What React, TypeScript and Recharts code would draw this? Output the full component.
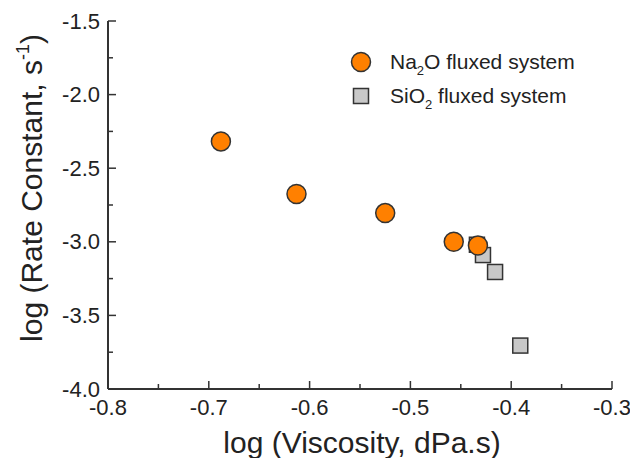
import React from 'react';
import { ScatterChart, Scatter, XAxis, YAxis, Legend, Label } from 'recharts';

// log(viscosity) vs log(rate constant)
const naX = [-0.688, -0.613, -0.525, -0.457, -0.433];
const naY = [-2.318, -2.675, -2.805, -3.0, -3.025];
const siX = [-0.434, -0.428, -0.416, -0.391];
const siY = [-3.02, -3.09, -3.205, -3.705];

const xTicks = [-0.8, -0.75, -0.7, -0.65, -0.6, -0.55, -0.5, -0.45, -0.4, -0.35, -0.3];
const yTicks = [-4.0, -3.75, -3.5, -3.25, -3.0, -2.75, -2.5, -2.25, -2.0, -1.75, -1.5];
const xMajor = [-0.8, -0.7, -0.6, -0.5, -0.4, -0.3];
const yMajor = [-4.0, -3.5, -3.0, -2.5, -2.0, -1.5];

const naData = naX.map((x, i) => ({ x, y: naY[i] }));
const siData = siX.map((x, i) => ({ x, y: siY[i] }));

const FONT = '"Liberation Sans", Arial, sans-serif';
const INK = '#333333';
const ORANGE = '#FF8000';
const GREY = '#C8C8C8';

const isIn = (v: number, list: number[]) => list.some((m) => Math.abs(m - v) < 1e-9);

const BottomTick = (props: any) => {
  const { x, y, payload } = props;
  const major = isIn(payload.value, xMajor);
  return (
    <g>
      <line x1={x} x2={x} y1={y} y2={y - (major ? 8 : 5)} stroke={INK} strokeWidth={1.5} />
      {major && (
        <text x={x} y={y + 26} textAnchor="middle" fontSize={22} fontFamily={FONT} fill="#222">
          {payload.value.toFixed(1)}
        </text>
      )}
    </g>
  );
};

const TopTick = (props: any) => {
  const { x, y, payload } = props;
  if (!isIn(payload.value, xMajor)) return <g />;
  return <line x1={x} x2={x} y1={y} y2={y + 7} stroke={INK} strokeWidth={1.5} />;
};

const LeftTick = (props: any) => {
  const { x, y, payload } = props;
  const major = isIn(payload.value, yMajor);
  return (
    <g>
      <line x1={x} x2={x + (major ? 8 : 5)} y1={y} y2={y} stroke={INK} strokeWidth={1.5} />
      {major && (
        <text x={x - 8} y={y + 7.5} textAnchor="end" fontSize={22} fontFamily={FONT} fill="#222">
          {payload.value.toFixed(1)}
        </text>
      )}
    </g>
  );
};

const RightTick = (props: any) => {
  const { x, y, payload } = props;
  if (!isIn(payload.value, yMajor)) return <g />;
  return <line x1={x} x2={x - 7} y1={y} y2={y} stroke={INK} strokeWidth={1.5} />;
};

const CircleDot = (props: any) => (
  <circle cx={props.cx} cy={props.cy} r={9.5} fill={ORANGE} stroke={INK} strokeWidth={1.5} />
);

const SquareDot = (props: any) => (
  <rect x={props.cx - 7.5} y={props.cy - 7.5} width={15} height={15} fill={GREY} stroke={INK} strokeWidth={1.5} />
);

const LegendBox = () => (
  <svg width={290} height={80} style={{ display: 'block' }}>
    <circle cx={21} cy={22} r={9.5} fill={ORANGE} stroke={INK} strokeWidth={1.5} />
    <text x={50} y={29} fontSize={21} fontFamily={FONT} fill="#222">
      Na<tspan fontSize={13} dy={6}>2</tspan>
      <tspan dy={-6}>O fluxed system</tspan>
    </text>
    <rect x={13.5} y={48.5} width={15} height={15} fill={GREY} stroke={INK} strokeWidth={1.5} />
    <text x={50} y={63} fontSize={21} fontFamily={FONT} fill="#222">
      SiO<tspan fontSize={13} dy={6}>2</tspan>
      <tspan dy={-6}> fluxed system</tspan>
    </text>
  </svg>
);

const YTitle = (props: any) => {
  const { viewBox } = props;
  const cx = viewBox.x + 42;
  const cy = viewBox.y + viewBox.height / 2 - 17;
  return (
    <text transform={`translate(${cx},${cy}) rotate(-90)`} textAnchor="middle" fontSize={30} fontFamily={FONT} fill="#222">
      log (Rate Constant, s<tspan fontSize={18} dy={-13}>-1</tspan>
      <tspan dy={13}>)</tspan>
    </text>
  );
};

const XTitle = (props: any) => {
  const { viewBox } = props;
  const cx = viewBox.x + viewBox.width / 2 + 2;
  return (
    <text x={cx} y={453} textAnchor="middle" fontSize={30} fontFamily={FONT} fill="#222">
      log (Viscosity, dPa.s)
    </text>
  );
};

export default function App() {
  return (
    <div style={{ position: 'absolute', left: 0, top: 0, width: 630, height: 458, background: '#fff' }}>
      <ScatterChart width={630} height={458} margin={{ top: 21, right: 18, bottom: 0, left: 0 }}>
        <XAxis
          xAxisId={0}
          dataKey="x"
          type="number"
          domain={[-0.8, -0.3]}
          ticks={xTicks}
          interval={0}
          allowDataOverflow
          height={69}
          tickSize={0}
          tickMargin={0}
          tickLine={false}
          axisLine={{ stroke: INK, strokeWidth: 2 }}
          tick={<BottomTick />}
        >
          <Label content={<XTitle />} />
        </XAxis>
        <XAxis
          xAxisId="top"
          orientation="top"
          dataKey="x"
          type="number"
          domain={[-0.8, -0.3]}
          ticks={xTicks}
          interval={0}
          allowDataOverflow
          height={0}
          tickSize={0}
          tickMargin={0}
          tickLine={false}
          axisLine={{ stroke: INK, strokeWidth: 2 }}
          tick={<TopTick />}
        />
        <YAxis
          yAxisId={0}
          dataKey="y"
          type="number"
          domain={[-4, -1.5]}
          ticks={yTicks}
          interval={0}
          allowDataOverflow
          width={108}
          tickSize={0}
          tickMargin={0}
          tickLine={false}
          axisLine={{ stroke: INK, strokeWidth: 2 }}
          tick={<LeftTick />}
        >
          <Label content={<YTitle />} />
        </YAxis>
        <YAxis
          yAxisId="right"
          orientation="right"
          dataKey="y"
          type="number"
          domain={[-4, -1.5]}
          ticks={yTicks}
          interval={0}
          allowDataOverflow
          width={0}
          tickSize={0}
          tickMargin={0}
          tickLine={false}
          axisLine={{ stroke: INK, strokeWidth: 2 }}
          tick={<RightTick />}
        />
        <Legend
          layout="horizontal"
          verticalAlign="middle"
          align="center"
          wrapperStyle={{ position: 'absolute', left: 340, top: 40, width: 290, height: 80 }}
          content={() => <LegendBox />}
        />
        <Scatter name="SiO2 fluxed system" data={siData} fill={GREY} shape={<SquareDot />} isAnimationActive={false} />
        <Scatter name="Na2O fluxed system" data={naData} fill={ORANGE} shape={<CircleDot />} isAnimationActive={false} />
      </ScatterChart>
    </div>
  );
}
